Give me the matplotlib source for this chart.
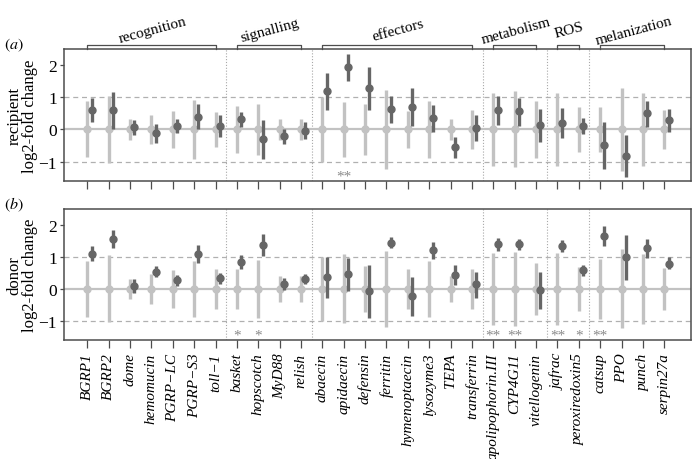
import numpy as np
import matplotlib
matplotlib.use("Agg")
import matplotlib.pyplot as plt
import matplotlib.transforms as mtransforms

plt.rcParams['font.family'] = ['Liberation Serif', 'DejaVu Serif']
plt.rcParams['mathtext.fontset'] = 'stix'

genes = ["BGRP1", "BGRP2", "dome", "hemomucin", "PGRP\u2212LC", "PGRP\u2212S3", "toll\u22121",
         "basket", "hopscotch", "MyD88", "relish",
         "abaecin", "apidaecin", "defensin", "ferritin", "hymenoptaecin", "lysozyme3", "TEPA", "transferrin",
         "apolipophorin.III", "CYP4G11", "vitellogenin",
         "jafrac", "peroxiredoxin5",
         "catsup", "PPO", "punch", "serpin27a"]

groups = ["recognition", "signalling", "effectors", "metabolism", "ROS", "melanization"]
group_start = [0, 7, 11, 19, 22, 24]
group_end = [6, 10, 18, 21, 23, 27]

# recipient panel (a)
rec_ctrl_half = [0.87, 1.05, 0.32, 0.44, 0.57, 0.92, 0.53, 0.72, 0.78, 0.34, 0.34,
                 1.00, 0.85, 0.80, 1.22, 0.58, 0.90, 0.32, 0.62,
                 1.14, 1.18, 0.88, 1.13, 0.70, 0.69, 1.30, 1.13, 0.62]
rec_mean = [0.61, 0.60, 0.07, -0.11, 0.12, 0.40, 0.12, 0.32, -0.29, -0.21, -0.04,
            1.19, 1.94, 1.28, 0.63, 0.70, 0.35, -0.54, 0.05,
            0.59, 0.56, 0.13, 0.21, 0.11, -0.48, -0.83, 0.50, 0.29]
rec_lo = [0.23, 0.03, -0.18, -0.42, -0.10, 0.00, -0.23, 0.09, -0.91, -0.44, -0.28,
          0.62, 1.52, 0.60, 0.20, 0.11, -0.07, -0.88, -0.37,
          0.15, 0.11, -0.39, -0.27, -0.15, -1.22, -1.49, 0.07, -0.07]
rec_hi = [0.98, 1.15, 0.28, 0.18, 0.34, 0.78, 0.45, 0.54, 0.30, 0.02, 0.22,
          1.74, 2.35, 1.94, 1.04, 1.30, 0.77, -0.22, 0.44,
          1.03, 0.98, 0.65, 0.68, 0.35, 0.24, -0.17, 0.90, 0.64]
rec_sig = {12: "**"}

# donor panel (b)
don_ctrl_half = [0.88, 1.05, 0.31, 0.47, 0.59, 0.88, 0.63, 0.63, 0.90, 0.41, 0.41,
                 1.00, 1.08, 0.72, 1.20, 0.63, 0.87, 0.40, 0.62,
                 1.13, 1.16, 0.82, 1.13, 0.69, 0.94, 1.24, 1.09, 0.66]
don_mean = [1.10, 1.57, 0.09, 0.54, 0.27, 1.10, 0.33, 0.84, 1.38, 0.16, 0.32,
            0.36, 0.46, -0.06, 1.45, -0.21, 1.21, 0.45, 0.14,
            1.39, 1.39, -0.05, 1.34, 0.59, 1.65, 0.99, 1.27, 0.79]
don_lo = [0.88, 1.28, -0.13, 0.36, 0.09, 0.82, 0.14, 0.61, 1.03, -0.02, 0.15,
          -0.29, -0.08, -0.90, 1.29, -0.84, 0.93, 0.12, -0.27,
          1.20, 1.21, -0.63, 1.14, 0.40, 1.33, 0.28, 0.98, 0.61]
don_hi = [1.33, 1.85, 0.31, 0.71, 0.44, 1.36, 0.51, 1.05, 1.71, 0.34, 0.48,
          1.00, 0.98, 0.75, 1.62, 0.38, 1.46, 0.76, 0.53,
          1.59, 1.56, 0.53, 1.52, 0.74, 1.96, 1.69, 1.55, 1.00]
don_sig = {7: "*", 8: "*", 19: "**", 20: "**", 22: "**", 23: "*", 24: "**"}

LIGHT = "#c2c2c2"
DARK = "#666666"
SPINE = "#4d4d4d"
x = np.arange(len(genes))
offset = 0.2
separators = [6.5, 10.5, 18.5, 21.5, 23.5]

fig = plt.figure(figsize=(6.92, 4.6), dpi=100)
ax_a = fig.add_axes([64/692, 1 - 182/460, 627/692, 132/460])
ax_b = fig.add_axes([64/692, 1 - 341/460, 627/692, 131/460])


def draw_panel(ax, half, mean, lo, hi, sig, ylabel, tag, show_labels):
    half = np.array(half)
    ax.axhline(0, color=LIGHT, lw=1.6, zorder=1)
    for yv in (-1, 1):
        ax.axhline(yv, color="#b0b0b0", lw=0.9, ls=(0, (4, 3)), zorder=0)
    for s in separators:
        ax.axvline(s, color="#a8a8a8", lw=0.8, ls=(0, (1, 1.6)), zorder=0)
    ax.vlines(x, -half, half, color=LIGHT, lw=2.4, zorder=2)
    ax.plot(x, np.zeros_like(x, dtype=float), 'o', color=LIGHT, ms=5, zorder=3)
    ax.vlines(x + offset, lo, hi, color=DARK, lw=2.4, zorder=4)
    ax.plot(x + offset, mean, 'o', color=DARK, ms=5, zorder=5)
    for i, s in sig.items():
        ax.text(x[i], -1.45, s, ha="center", va="center", fontsize=11, color="#8a8a8a")
    ax.set_xlim(-1.09, 28.25)
    ax.set_ylim(-1.6, 2.5)
    ax.set_yticks([-1, 0, 1, 2])
    ax.set_xticks(x)
    if show_labels:
        ax.set_xticklabels(genes, rotation=90, fontstyle="italic", fontsize=11, va="top")
    else:
        ax.set_xticklabels([])
    ax.tick_params(axis="x", direction="out", length=6, width=0.9, color=SPINE, pad=3)
    ax.tick_params(axis="y", direction="out", length=3, width=0.9, color=SPINE, labelsize=12.5, pad=2)
    for sp in ax.spines.values():
        sp.set_color(SPINE)
        sp.set_linewidth(1.1)
    ax.set_ylabel(ylabel, fontsize=12, linespacing=1.0)
    ax.yaxis.set_label_coords(-0.041, 0.5)
    ax.text(-0.096, 1.038, tag, transform=ax.transAxes, fontsize=11.5, ha="left", va="center")


draw_panel(ax_a, rec_ctrl_half, rec_mean, rec_lo, rec_hi, rec_sig,
           "recipient\nlog2-fold change", "$(a)$", False)
draw_panel(ax_b, don_ctrl_half, don_mean, don_lo, don_hi, don_sig,
           "donor\nlog2-fold change", "$(b)$", True)

# group brackets
trans = mtransforms.blended_transform_factory(ax_a.transData, ax_a.transAxes)
ytop = 1.0
ybr = 1.033
for g, s, e in zip(groups, group_start, group_end):
    ax_a.plot([s, s, e, e], [ytop, ybr, ybr, ytop], color=SPINE, lw=0.9,
              transform=trans, clip_on=False)
    ax_a.text((s + e) / 2 + 0.1, ybr + 0.085, g, transform=trans, ha="center", va="baseline",
              rotation=15, fontsize=11, rotation_mode="anchor")

fig.savefig("out.png", dpi=100)
